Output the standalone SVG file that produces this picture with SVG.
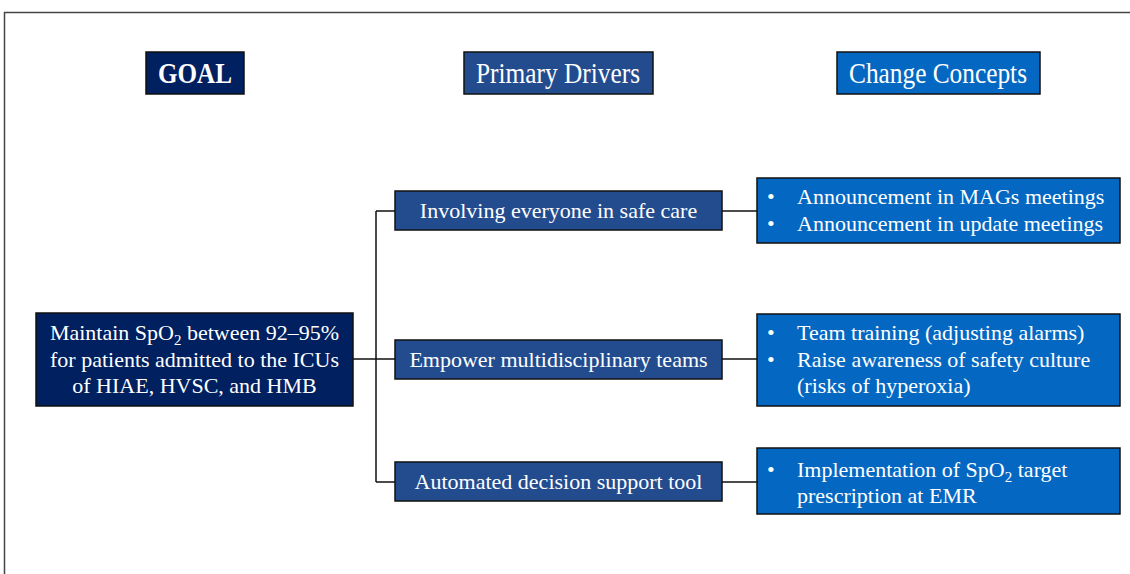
<svg xmlns="http://www.w3.org/2000/svg" width="1130" height="574" viewBox="0 0 1130 574">
<style>
text{font-family:"Liberation Serif","Times New Roman",serif;fill:#fff}
.hd{font-size:29px}
.t{font-size:22px}
.c{text-anchor:middle}
.box{stroke:#111;stroke-width:1.5}
.g{fill:#002060}
.p{fill:#234c8f}
.k{fill:#0468c2}
.ln{stroke:#111;stroke-width:1.5;fill:none}
</style>
<rect width="1130" height="574" fill="#fff"/>
<rect x="4.5" y="12.5" width="1200" height="700" fill="none" stroke="#444" stroke-width="1.5"/>
<g id="hdr-goal"><rect class="box g" x="146" y="52" width="98" height="42"/><text class="hd c" x="195" y="83" font-weight="bold" textLength="74" lengthAdjust="spacingAndGlyphs">GOAL</text></g>
<g id="hdr-drivers"><rect class="box p" x="464" y="52" width="189" height="42"/><text class="hd c" x="558" y="83" textLength="164" lengthAdjust="spacingAndGlyphs">Primary Drivers</text></g>
<g id="hdr-concepts"><rect class="box k" x="837" y="52" width="203" height="42"/><text class="hd c" x="938" y="83" textLength="178" lengthAdjust="spacingAndGlyphs">Change Concepts</text></g>
<g id="connectors">
<path class="ln" d="M353 359H395M376 211V482M376 211H395M376 482H395M722 211H757M722 359H757M722 482H757"/>
</g>
<g id="goal"><rect class="box g" x="36" y="313" width="317" height="93"/>
<text class="t c" x="194.5" y="340">Maintain SpO<tspan font-size="15" dy="5">2</tspan><tspan dy="-5"> between 92–95%</tspan></text>
<text class="t c" x="194.5" y="367">for patients admitted to the ICUs</text>
<text class="t c" x="194.5" y="393">of HIAE, HVSC, and HMB</text></g>
<g id="d1"><rect class="box p" x="395" y="191" width="327" height="39"/><text class="t c" x="558.5" y="218">Involving everyone in safe care</text></g>
<g id="d2"><rect class="box p" x="395" y="340" width="327" height="39"/><text class="t c" x="558.5" y="367">Empower multidisciplinary teams</text></g>
<g id="d3"><rect class="box p" x="395" y="462" width="327" height="39"/><text class="t c" x="558.5" y="489">Automated decision support tool</text></g>
<g id="c1"><rect class="box k" x="757" y="178" width="363" height="65"/>
<text class="t" x="767" y="204">•</text><text class="t" x="797" y="204">Announcement in MAGs meetings</text>
<text class="t" x="767" y="231">•</text><text class="t" x="797" y="231">Announcement in update meetings</text></g>
<g id="c2"><rect class="box k" x="757" y="314" width="363" height="92"/>
<text class="t" x="767" y="340">•</text><text class="t" x="797" y="340">Team training (adjusting alarms)</text>
<text class="t" x="767" y="367">•</text><text class="t" x="797" y="367">Raise awareness of safety culture</text>
<text class="t" x="797" y="393">(risks of hyperoxia)</text></g>
<g id="c3"><rect class="box k" x="757" y="448" width="363" height="66"/>
<text class="t" x="767" y="477">•</text><text class="t" x="797" y="477">Implementation of SpO<tspan font-size="15" dy="5">2</tspan><tspan dy="-5"> target</tspan></text>
<text class="t" x="797" y="503">prescription at EMR</text></g>
</svg>
